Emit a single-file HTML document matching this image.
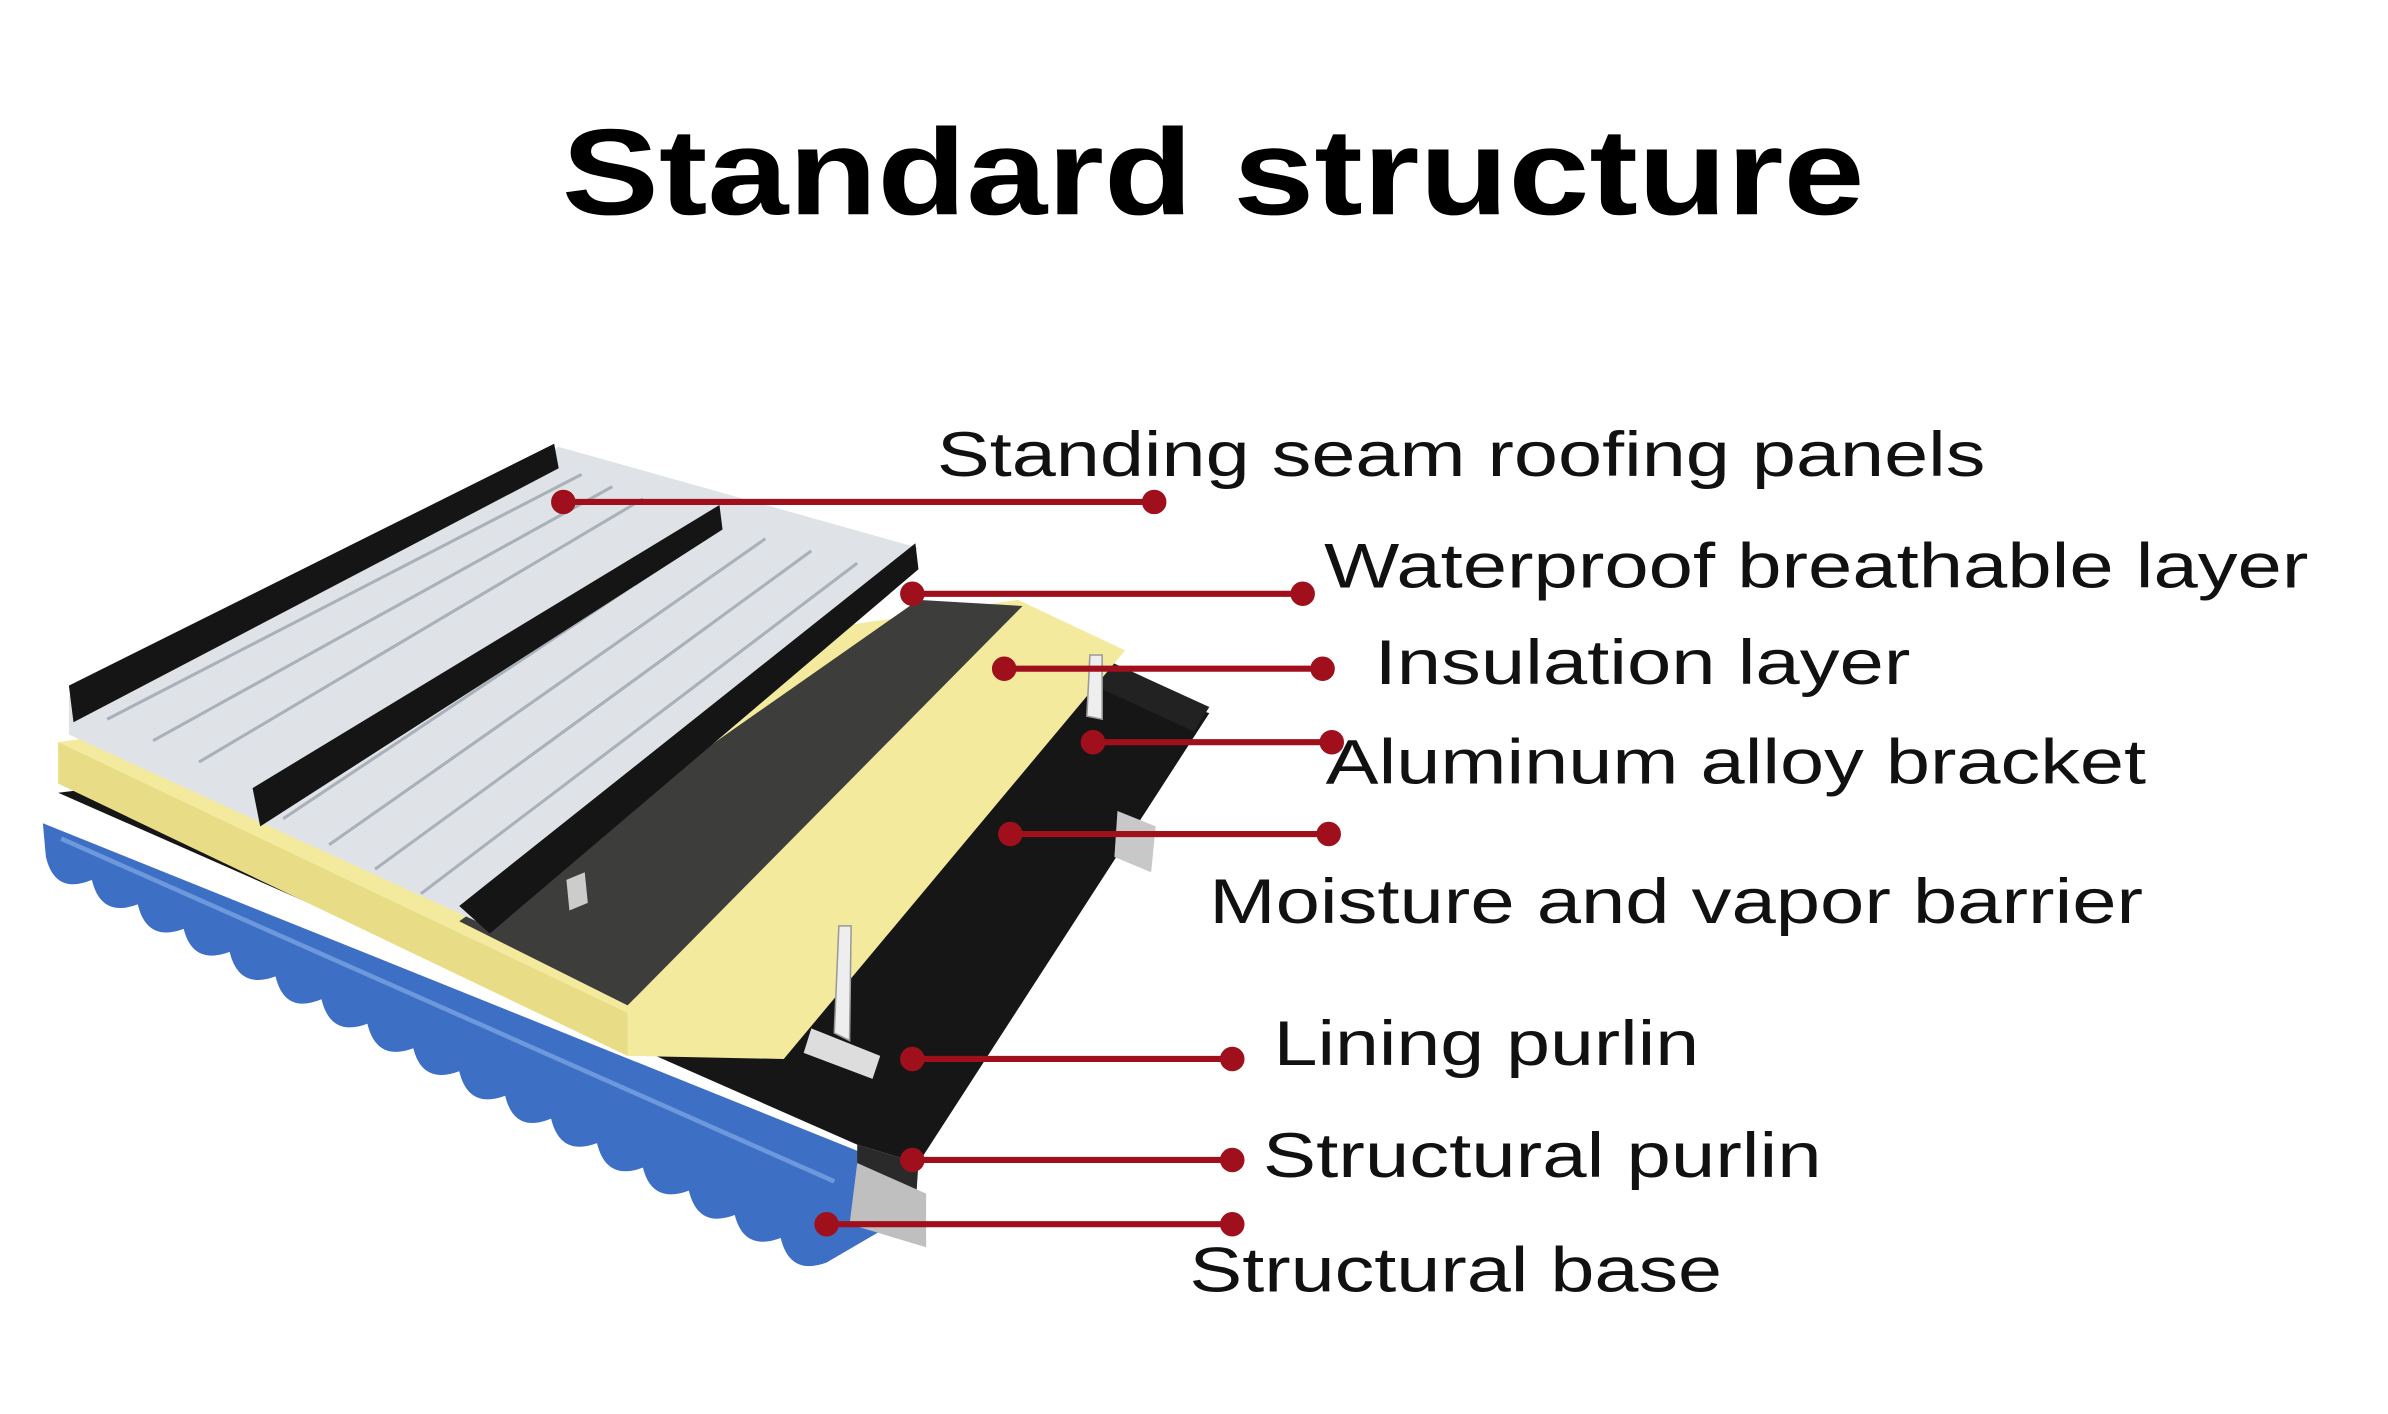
<!DOCTYPE html>
<html><head><meta charset="utf-8"><style>
html,body{margin:0;padding:0;background:#fff;}
svg{display:block;}
text{font-family:"Liberation Sans",sans-serif;fill:#111;}
</style></head><body>
<svg width="2388" height="1414" viewBox="0 0 1560 924" preserveAspectRatio="none" xmlns="http://www.w3.org/2000/svg">
<rect width="1560" height="924" fill="#fff"/>
<text x="367" y="140" font-size="80" font-weight="bold" textLength="851" lengthAdjust="spacingAndGlyphs" style="fill:#000">Standard structure</text>

<!-- blue corrugated base -->
<path d="M28,538 L560,752 L600,790 L540,825 Q516,834 510,809 Q486,818 480,794 Q456,803 450,778 Q426,787 420,763 Q396,772 390,747 Q366,756 360,731 Q336,741 330,716 Q306,725 300,700 Q276,709 270,685 Q246,694 240,669 Q216,678 210,653 Q186,663 180,638 Q156,647 150,622 Q126,631 120,607 Q96,616 90,591 Q66,600 60,575 Q36,585 30,560 Z" fill="#3d6fc4"/>
<path d="M40,548 L545,772" stroke="#6e98dc" stroke-width="3" fill="none"/>
<!-- black moisture barrier -->
<polygon points="38,518 700,438 790,466 600,760 560,748" fill="#161616"/>
<polygon points="560,748 600,760 598,790 560,775" fill="#2a2a2a"/>
<!-- purlins -->
<polygon points="560,760 605,780 605,815 555,800" fill="#bfbfbf"/>
<polygon points="730,530 755,540 752,570 728,560" fill="#c8c8c8"/>
<polygon points="720,430 790,462 780,478 715,448" fill="#222"/>
<!-- yellow insulation -->
<polygon points="38,485 665,392 735,425 512,692 410,690 38,512" fill="#f3ea9e"/>
<polygon points="38,485 410,662 410,690 38,512" fill="#e8dc86"/>
<!-- waterproof dark layer -->
<polygon points="300,602 600,392 668,396 410,657" fill="#3d3d3b"/>
<!-- roof panels -->
<polygon points="45,455 365,292 600,358 320,606 45,480" fill="#dfe3e8"/>
<g stroke="#a9b0b8" stroke-width="2">
<line x1="70" y1="470" x2="380" y2="310"/>
<line x1="100" y1="484" x2="400" y2="318"/>
<line x1="130" y1="498" x2="420" y2="326"/>
<line x1="185" y1="535" x2="470" y2="345"/>
<line x1="215" y1="552" x2="500" y2="352"/>
<line x1="245" y1="568" x2="530" y2="360"/>
<line x1="275" y1="584" x2="560" y2="368"/>
</g>
<!-- standing seams -->
<polygon points="45,448 362,290 365,306 48,472" fill="#151515"/>
<polygon points="165,515 470,330 472,346 170,540" fill="#151515"/>
<polygon points="300,592 598,355 600,372 320,610" fill="#151515"/>
<!-- brackets -->
<polygon points="548,605 556,605 555,680 545,675" fill="#eee" stroke="#999"/>
<polygon points="530,672 575,690 570,705 525,688" fill="#ddd"/>
<polygon points="712,428 720,428 720,470 710,468" fill="#eee" stroke="#999"/>
<polygon points="370,575 382,570 384,590 372,595" fill="#ccc"/>

<!-- connectors -->
<g stroke="#a0101c" stroke-width="4" fill="#a0101c">
<line x1="368" y1="328" x2="754" y2="328"/><circle cx="368" cy="328" r="6"/><circle cx="754" cy="328" r="6"/>
<line x1="596" y1="388" x2="851" y2="388"/><circle cx="596" cy="388" r="6"/><circle cx="851" cy="388" r="6"/>
<line x1="656" y1="437" x2="864" y2="437"/><circle cx="656" cy="437" r="6"/><circle cx="864" cy="437" r="6"/>
<line x1="714" y1="485" x2="870" y2="485"/><circle cx="714" cy="485" r="6"/><circle cx="870" cy="485" r="6"/>
<line x1="660" y1="545" x2="868" y2="545"/><circle cx="660" cy="545" r="6"/><circle cx="868" cy="545" r="6"/>
<line x1="596" y1="692" x2="805" y2="692"/><circle cx="596" cy="692" r="6"/><circle cx="805" cy="692" r="6"/>
<line x1="596" y1="758" x2="805" y2="758"/><circle cx="596" cy="758" r="6"/><circle cx="805" cy="758" r="6"/>
<line x1="540" y1="800" x2="805" y2="800"/><circle cx="540" cy="800" r="6"/><circle cx="805" cy="800" r="6"/>
</g>

<g font-size="41" font-weight="500">
<text x="612" y="311" textLength="685" lengthAdjust="spacingAndGlyphs">Standing seam roofing panels</text>
<text x="865" y="384" textLength="643" lengthAdjust="spacingAndGlyphs">Waterproof breathable layer</text>
<text x="898" y="447" textLength="350" lengthAdjust="spacingAndGlyphs">Insulation layer</text>
<text x="866" y="512" textLength="536" lengthAdjust="spacingAndGlyphs">Aluminum alloy bracket</text>
<text x="790" y="603" textLength="610" lengthAdjust="spacingAndGlyphs">Moisture and vapor barrier</text>
<text x="832" y="696" textLength="278" lengthAdjust="spacingAndGlyphs">Lining purlin</text>
<text x="825" y="769" textLength="365" lengthAdjust="spacingAndGlyphs">Structural purlin</text>
<text x="777" y="844" textLength="348" lengthAdjust="spacingAndGlyphs">Structural base</text>
</g>
</svg>
</body></html>
